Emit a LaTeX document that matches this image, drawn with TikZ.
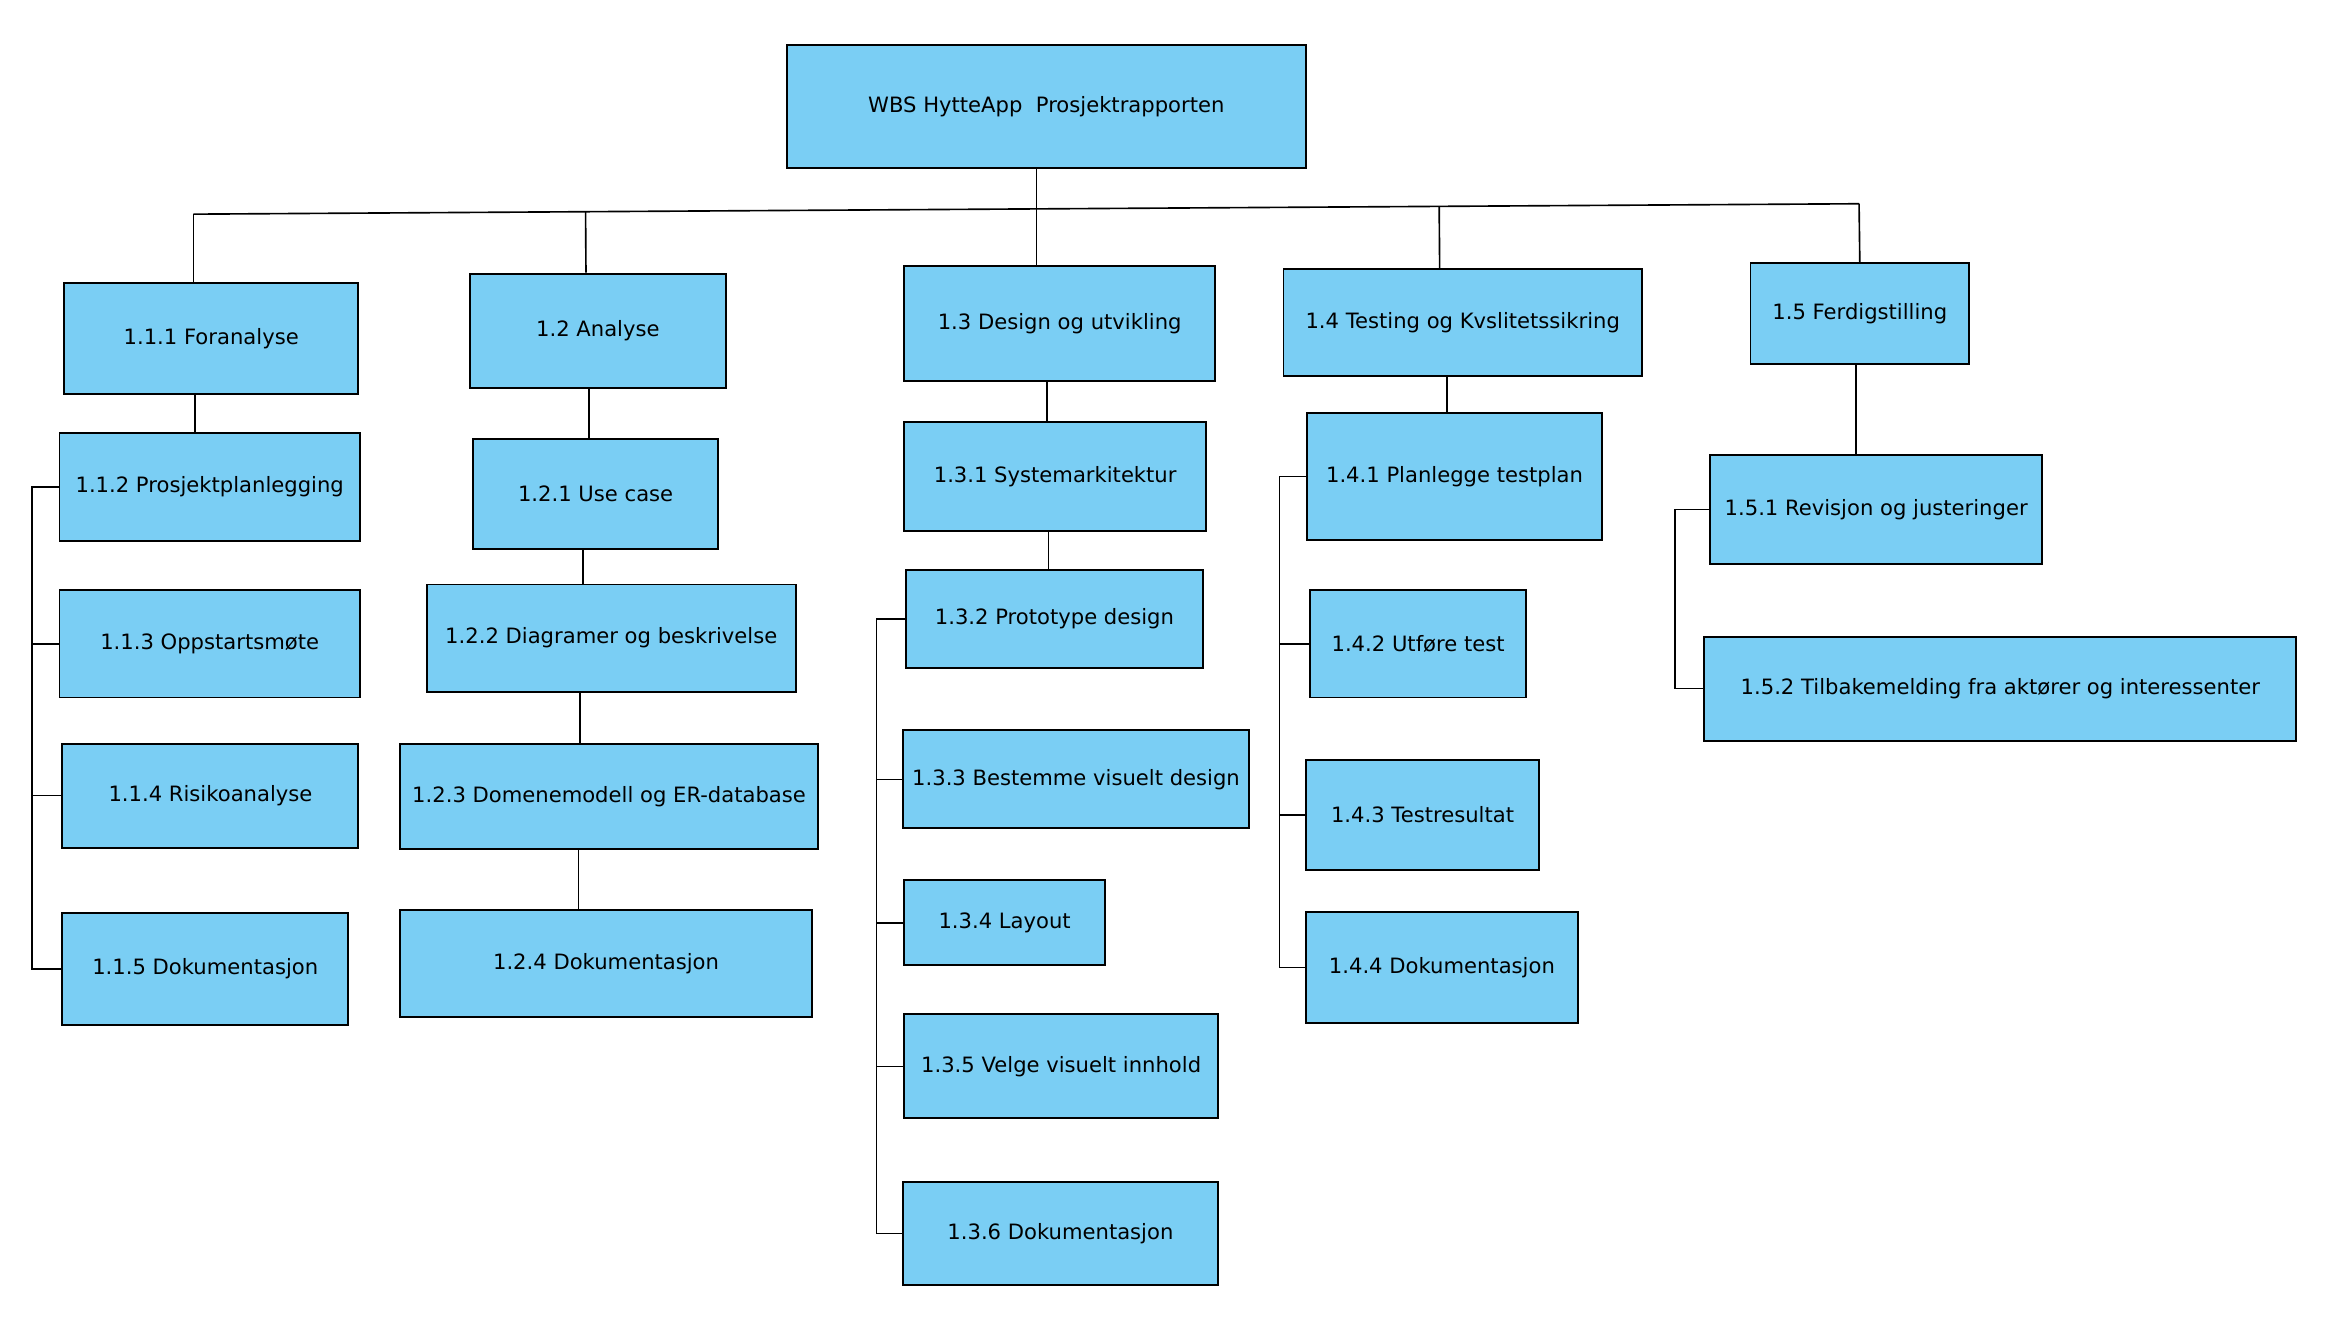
\documentclass[tikz,border=0pt]{standalone}
\usepackage{fontspec}
\setmainfont{DejaVu Sans}
\usepackage{tikz}
\usetikzlibrary{calc,positioning}
\usepackage{xcolor}
\definecolor{wbsblue}{RGB}{122,206,244}
\tikzstyle{task} = [rectangle, draw=black, fill=wbsblue, line width=1.3pt, text centered, font=\fontsize{14.2}{17}\selectfont]
\tikzstyle{link} = [line width=1.1pt, color=black]

\begin{document}
\begin{tikzpicture}[x=1pt, y=-1pt]
\useasboundingbox (0,0) rectangle (1568,898.3);
% Top level
\node (wbs) [task, minimum width=349, minimum height=83] at (703.5,71.5) {WBS HytteApp\ \ Prosjektrapporten};

\node (foranalyse) [task, minimum width=198, minimum height=75] at (142,227.5) {1.1.1 Foranalyse};
\node (analyse) [task, minimum width=172, minimum height=77] at (402,222.5) {1.2 Analyse};
\node (design) [task, minimum width=209, minimum height=77] at (712.5,217.5) {1.3 Design og utvikling};
\node (testing) [task, minimum width=241, minimum height=72] at (983.5,217) {1.4 Testing og Kvslitetssikring};
\node (ferdig) [task, minimum width=147, minimum height=68] at (1250.5,211) {1.5 Ferdigstilling};

% 1.1 column
\node (planlegging) [task, minimum width=202, minimum height=73] at (141,327.5) {1.1.2 Prosjektplanlegging};
\node (oppstart) [task, minimum width=202, minimum height=72] at (141,433) {1.1.3 Oppstartsmøte};
\node (risiko) [task, minimum width=199, minimum height=70] at (141.5,535) {1.1.4 Risikoanalyse};
\node (dok11) [task, minimum width=192, minimum height=75] at (138,651.5) {1.1.5 Dokumentasjon};

% 1.2 column
\node (usecase) [task, minimum width=165, minimum height=74] at (400.5,332) {1.2.1 Use case};
\node (diagram) [task, minimum width=248, minimum height=72] at (411,429) {1.2.2 Diagramer og beskrivelse};
\node (domene) [task, minimum width=281, minimum height=71] at (409.5,535.5) {1.2.3 Domenemodell og ER-database};
\node (dok12) [task, minimum width=277, minimum height=72] at (407.5,648) {1.2.4 Dokumentasjon};

% 1.3 column
\node (sysark) [task, minimum width=203, minimum height=73] at (709.5,320.5) {1.3.1 Systemarkitektur};
\node (prototype) [task, minimum width=200, minimum height=66] at (709,416) {1.3.2 Prototype design};
\node (visdesign) [task, minimum width=233, minimum height=66] at (723.5,524) {1.3.3 Bestemme visuelt design};
\node (layout) [task, minimum width=135, minimum height=57] at (675.5,620.5) {1.3.4 Layout};
\node (innhold) [task, minimum width=211, minimum height=70] at (713.5,717) {1.3.5 Velge visuelt innhold};
\node (dok13) [task, minimum width=212, minimum height=69] at (713,829.5) {1.3.6 Dokumentasjon};

% 1.4 column
\node (testplan) [task, minimum width=198, minimum height=85] at (978,320.5) {1.4.1 Planlegge testplan};
\node (utfore) [task, minimum width=145, minimum height=72] at (953.5,433) {1.4.2 Utføre test};
\node (resultat) [task, minimum width=157, minimum height=74] at (956.5,548) {1.4.3 Testresultat};
\node (dok14) [task, minimum width=183, minimum height=75] at (969.5,650.5) {1.4.4 Dokumentasjon};

% 1.5 column
\node (revisjon) [task, minimum width=223, minimum height=73] at (1261.5,342.5) {1.5.1 Revisjon og justeringer};
\node (tilbake) [task, minimum width=398, minimum height=70] at (1345,463) {1.5.2 Tilbakemelding fra aktører og interessenter};

% Bus under the top node
\coordinate (busL) at (130,144);
\coordinate (busR) at (1250,137);
\draw[link] (busL) -- (busR);
\draw[link] ([xshift=-6.5]wbs.south) -- ([xshift=-15.5]design.north);
\draw[link] (busL) -- ([xshift=-12]foranalyse.north);
\draw[link] ([xshift=-8]analyse.north) -- ($(busL)!([xshift=-8]analyse.north)!(busR)$);
\draw[link] ([xshift=-15.5]testing.north) -- ($(busL)!([xshift=-15.5]testing.north)!(busR)$);
\draw[link] (busR) -- (ferdig.north);

% Vertical links
\draw[link] ([xshift=-11]foranalyse.south) -- ([xshift=-10]planlegging.north);
\draw[link] ([xshift=-6]analyse.south) -- ([xshift=-4.5]usecase.north);
\draw[link] ([xshift=-8.5]usecase.south) -- ([xshift=-19]diagram.north);
\draw[link] ([xshift=-21]diagram.south) -- ([xshift=-19.5]domene.north);
\draw[link] ([xshift=-20.5]domene.south) -- ([xshift=-18.5]dok12.north);
\draw[link] ([xshift=-8.5]design.south) -- ([xshift=-5.5]sysark.north);
\draw[link] ([xshift=-4.5]sysark.south) -- ([xshift=-4]prototype.north);
\draw[link] ([xshift=-10.5]testing.south) -- ([xshift=-5]testplan.north);
\draw[link] ([xshift=-2.5]ferdig.south) -- ([xshift=-13.5]revisjon.north);

% Side brackets
\coordinate (b1) at ([xshift=-18]planlegging.west);
\draw[link] (planlegging.west) -- (b1) |- (dok11.west);
\foreach \n in {oppstart,risiko}
  \draw[link] (\n.west) -- (\n.west -| b1);

\coordinate (b3) at ([xshift=-19]prototype.west);
\draw[link] (prototype.west) -- (b3) |- (dok13.west);
\foreach \n in {visdesign,layout,innhold}
  \draw[link] (\n.west) -- (\n.west -| b3);

\coordinate (b4) at ([xshift=-18]testplan.west);
\draw[link] (testplan.west) -- (b4) |- (dok14.west);
\foreach \n in {utfore,resultat}
  \draw[link] (\n.west) -- (\n.west -| b4);

\coordinate (b5) at ([xshift=-23]revisjon.west);
\draw[link] (revisjon.west) -- (b5) |- (tilbake.west);
\end{tikzpicture}
\end{document}
